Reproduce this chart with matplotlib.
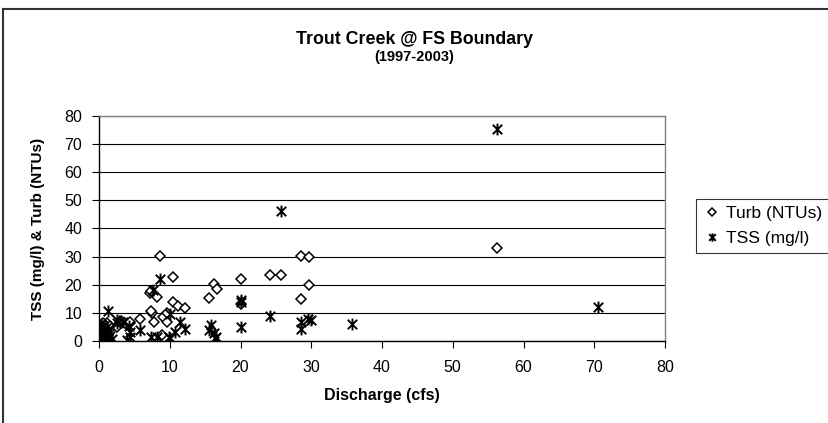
import matplotlib
matplotlib.use("Agg")
import matplotlib.pyplot as plt
from matplotlib.path import Path
from matplotlib.lines import Line2D

plt.rcParams['font.family'] = ['Liberation Sans', 'DejaVu Sans']

# Turb (NTUs) - hollow diamonds
turb_x = [0.1, 0.2, 0.3, 0.4, 0.5, 0.6, 0.7, 0.8, 0.9, 1.0, 1.1, 1.2, 0.3, 0.5, 0.7, 0.9, 0.2, 1.4, 1.6, 1.3,
          2.5, 2.9, 3.7, 4.4, 4.4, 5.8, 7.2, 7.3, 7.45, 7.35, 7.8, 8.2, 8.6, 8.9, 9.1, 9.6, 9.6,
          10.5, 10.5, 11.2, 12.1, 15.6, 16.2, 16.7, 20.0, 20.0, 24.2, 25.7, 28.6, 29.7, 29.7, 28.6, 56.2]
turb_y = [1.0, 2.5, 4.0, 5.5, 3.0, 1.5, 6.0, 4.5, 2.0, 5.0, 3.5, 6.5, 0.5, 6.5, 3.0, 5.8, 4.8, 4.0, 5.5, 2.2,
          4.9, 7.2, 6.5, 6.3, 6.9, 7.9, 17.0, 17.9, 10.0, 10.8, 6.9, 15.8, 30.3, 2.1, 8.6, 9.8, 6.9,
          22.6, 13.8, 12.6, 11.6, 15.2, 20.2, 18.5, 22.0, 13.2, 23.5, 23.5, 30.3, 30.0, 20.0, 14.8, 33.0]

# TSS (mg/l) - star markers
tss_x = [0.1, 0.2, 0.3, 0.4, 0.5, 0.6, 0.7, 0.8, 0.9, 1.0, 1.1, 1.2, 0.2, 0.4, 0.6, 0.8, 1.5, 1.3, 0.3, 1.8,
         1.3, 2.5, 2.5, 3.4, 4.3, 4.4, 4.4, 3.9, 5.8, 7.35, 7.7, 8.6, 8.2, 9.9, 10.0, 10.0, 10.7, 11.4, 12.2,
         15.5, 15.9, 16.2, 16.4, 16.6, 20.0, 20.0, 20.0, 24.2, 25.7, 28.6, 28.6, 29.6, 29.9, 35.7, 56.2, 70.6]
tss_y = [0.5, 1.5, 3.0, 0.8, 2.2, 4.5, 1.0, 3.5, 0.3, 2.0, 5.0, 1.2, 4.0, 5.5, 2.8, 0.5, 1.8, 3.8, 6.0, 0.6,
         10.8, 7.5, 6.3, 6.9, 5.3, 3.3, 1.3, 0.4, 3.9, 1.3, 18.1, 22.0, 1.5, 1.5, 9.5, 0.9, 3.3, 6.9, 4.1,
         3.9, 5.7, 3.0, 0.9, 1.3, 14.6, 13.8, 4.9, 8.9, 46.2, 6.9, 4.3, 7.8, 7.5, 5.9, 75.3, 12.0]

x_ticks = [0, 10, 20, 30, 40, 50, 60, 70, 80]
y_ticks = [0, 10, 20, 30, 40, 50, 60, 70, 80]

# Excel-like star: X with a vertical bar
star = Path([(0, -1), (0, 1), (-0.8, -0.8), (0.8, 0.8), (-0.8, 0.8), (0.8, -0.8)],
            [Path.MOVETO, Path.LINETO, Path.MOVETO, Path.LINETO, Path.MOVETO, Path.LINETO])

fig = plt.figure(figsize=(8.29, 4.23), dpi=100)
ax = fig.add_axes([99 / 829, 82 / 423, 566 / 829, 225 / 423])

ax.plot(turb_x, turb_y, linestyle='none', marker='D', markersize=5.6,
        markerfacecolor='white', markeredgecolor='black', markeredgewidth=1.1, label='Turb (NTUs)')
ax.plot(tss_x, tss_y, linestyle='none', marker=star, markersize=8.5,
        markeredgecolor='black', markeredgewidth=1.4, label='TSS (mg/l)')

ax.set_xlim(0, 80)
ax.set_ylim(0, 80)
ax.set_xticks(x_ticks)
ax.set_yticks(y_ticks)
ax.tick_params(axis='both', labelsize=11.5, direction='out', length=5, width=0.8)
ax.tick_params(axis='y', pad=7)
ax.tick_params(axis='x', pad=9)
ax.yaxis.grid(True, color='black', linewidth=0.8)
ax.set_axisbelow(True)
for s in ['left', 'bottom']:
    ax.spines[s].set_color('black')
    ax.spines[s].set_linewidth(1.0)
for s in ['top', 'right']:
    ax.spines[s].set_color('#808080')
    ax.spines[s].set_linewidth(1.0)

ax.set_xlabel('Discharge (cfs)', fontsize=11.5, fontweight='bold', labelpad=9)
ax.set_ylabel('TSS (mg/l) & Turb (NTUs)', fontsize=11, fontweight='bold', labelpad=14)

fig.text(0.5, 1 - 39 / 423, 'Trout Creek @ FS Boundary', ha='center', va='center',
         fontsize=12.8, fontweight='bold')
fig.text(0.5, 1 - 57 / 423, '(1997-2003)', ha='center', va='center',
         fontsize=10.5, fontweight='bold')

leg = ax.legend(loc='upper left', bbox_to_anchor=(696 / 829, 1 - 199 / 423),
                bbox_transform=fig.transFigure, frameon=True, fancybox=False,
                fontsize=12.5, handletextpad=0.3, handlelength=1.0, borderpad=0.4,
                labelspacing=0.55, markerscale=0.7, borderaxespad=0)
leg.get_frame().set_edgecolor('black')
leg.get_frame().set_linewidth(0.8)

# outer chart border (only top and left edges visible)
fig.add_artist(Line2D([3 / 829, 1], [1 - 9 / 423, 1 - 9 / 423], color='#333333', linewidth=1.5))
fig.add_artist(Line2D([3 / 829, 3 / 829], [0, 1 - 9 / 423], color='#333333', linewidth=1.5))

fig.savefig('out.png', dpi=100)
